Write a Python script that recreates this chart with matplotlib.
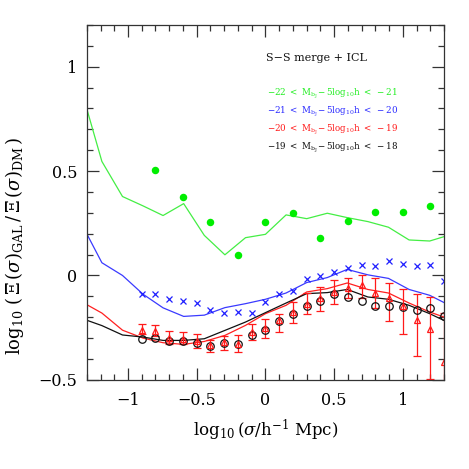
import matplotlib
matplotlib.use('Agg')
import matplotlib.pyplot as plt
from matplotlib.ticker import MultipleLocator
import numpy as np

plt.rcParams['font.family'] = ['DejaVu Serif']
plt.rcParams['mathtext.fontset'] = 'dejavuserif'

# ---- model curves (line grid) ----
x_line = [-1.34, -1.19, -1.04, -0.89, -0.745, -0.595, -0.445, -0.295, -0.145, 0.0,
          0.15, 0.30, 0.45, 0.595, 0.745, 0.895, 1.045, 1.195, 1.345]
green_line = [0.89, 0.546, 0.378, 0.333, 0.287, 0.344, 0.192, 0.099, 0.181, 0.197,
              0.29, 0.272, 0.298, 0.277, 0.258, 0.231, 0.17, 0.165, 0.195]
blue_line = [0.25, 0.061, 0.0, -0.09, -0.155, -0.196, -0.19, -0.154, -0.135, -0.114,
             -0.084, -0.034, -0.01, 0.029, 0.003, -0.014, -0.067, -0.095, -0.145]
red_line = [-0.125, -0.18, -0.262, -0.30, -0.322, -0.33, -0.316, -0.287, -0.239, -0.183,
            -0.143, -0.079, -0.063, -0.036, -0.067, -0.084, -0.132, -0.175, -0.21]
black_line = [-0.205, -0.24, -0.285, -0.295, -0.311, -0.311, -0.303, -0.263, -0.223, -0.178,
              -0.132, -0.087, -0.082, -0.067, -0.103, -0.114, -0.143, -0.183, -0.23]

# ---- measurements ----
x_green = [-0.8, -0.6, -0.4, -0.2, 0.0, 0.2, 0.4, 0.6, 0.8, 1.0, 1.2]
y_green = [0.503, 0.376, 0.256, 0.099, 0.255, 0.301, 0.178, 0.261, 0.306, 0.303, 0.332]

x_pts = [-0.9, -0.8, -0.7, -0.6, -0.5, -0.4, -0.3, -0.2, -0.1, 0.0, 0.1, 0.2,
         0.3, 0.4, 0.5, 0.6, 0.7, 0.8, 0.9, 1.0, 1.1, 1.2, 1.3]
y_blue = [-0.087, -0.087, -0.115, -0.122, -0.13, -0.163, -0.178, -0.175, -0.178, -0.127,
          -0.091, -0.072, -0.016, -0.003, 0.016, 0.034, 0.048, 0.045, 0.069, 0.056,
          0.045, 0.048, -0.027]
y_black = [-0.306, -0.301, -0.316, -0.316, -0.324, -0.34, -0.324, -0.33, -0.287, -0.26,
           -0.218, -0.183, -0.146, -0.124, -0.088, -0.103, -0.124, -0.144, -0.148, -0.151,
           -0.167, -0.156, -0.194]
y_red = [-0.263, -0.266, -0.30, -0.303, -0.314, -0.335, -0.319, -0.327, -0.271, -0.25,
         -0.215, -0.175, -0.135, -0.108, -0.079, -0.06, -0.047, -0.084, -0.108, -0.148,
         -0.215, -0.255, -0.415]
red_hi = [-0.234, -0.239, -0.266, -0.271, -0.282, -0.311, -0.292, -0.287, -0.231, -0.207,
          -0.183, -0.127, -0.084, -0.055, -0.023, -0.014, 0.001, -0.014, -0.036, -0.063,
          -0.091, -0.103, -0.18]
red_lo = [-0.282, -0.29, -0.33, -0.33, -0.346, -0.367, -0.359, -0.367, -0.311, -0.298,
          -0.271, -0.228, -0.186, -0.17, -0.135, -0.11, -0.11, -0.154, -0.218, -0.282,
          -0.388, -0.495, -0.65]

labels = [r'$-22\ <\ \mathrm{M_{b_J}\!-5log_{10}h}\ <\ -21$',
          r'$-21\ <\ \mathrm{M_{b_J}\!-5log_{10}h}\ <\ -20$',
          r'$-20\ <\ \mathrm{M_{b_J}\!-5log_{10}h}\ <\ -19$',
          r'$-19\ <\ \mathrm{M_{b_J}\!-5log_{10}h}\ <\ -18$']
colors = ['#22ee22', '#2a2aff', '#ff1a1a', '#111111']

fig = plt.figure(figsize=(4.69, 4.69), dpi=100)
ax = fig.add_axes([0.185, 0.19, 0.762, 0.757])

ax.plot(x_line, green_line, color='#44ee44', lw=0.9)
ax.plot(x_line, blue_line, color='#3a3aff', lw=0.9)
ax.plot(x_line, red_line, color='#ff2020', lw=0.9)
ax.plot(x_line, black_line, color='#111111', lw=0.9)

ax.plot(x_green, y_green, 'o', color='#00ee00', ms=5.4, mec='none')
ax.plot(x_pts, y_blue, 'x', color='#2020ff', ms=3.8, mew=0.9)

y_red_a = np.array(y_red)
yerr = [y_red_a - np.array(red_lo), np.array(red_hi) - y_red_a]
ax.errorbar(x_pts, y_red, yerr=yerr, fmt='^', color='#ff1a1a', mfc='none', ms=4.2,
            mew=0.9, elinewidth=0.9, capsize=2.6, capthick=0.9)
ax.plot(x_pts, y_black, 'o', mfc='none', mec='#111111', ms=5.4, mew=0.9)

ax.set_xlim(-1.3, 1.3)
ax.set_ylim(-0.5, 1.2)
ax.xaxis.set_major_locator(MultipleLocator(0.5))
ax.xaxis.set_minor_locator(MultipleLocator(0.1))
ax.yaxis.set_major_locator(MultipleLocator(0.5))
ax.yaxis.set_minor_locator(MultipleLocator(0.1))
ax.set_xticks([-1, -0.5, 0, 0.5, 1])
ax.set_xticklabels(['\u22121', '\u22120.5', '0', '0.5', '1'])
ax.set_yticks([-0.5, 0, 0.5, 1])
ax.set_yticklabels(['\u22120.5', '0', '0.5', '1'])
ax.tick_params(which='both', direction='in', top=True, right=True, width=0.9,
               labelsize=11.5, color='#333333')
ax.tick_params(which='major', length=8.5)
ax.tick_params(which='minor', length=4.3)
ax.tick_params(axis='x', pad=9)
ax.tick_params(axis='y', pad=7)
for s in ax.spines.values():
    s.set_linewidth(0.9)
    s.set_color('#333333')

ax.set_xlabel(r'$\log_{10}(\sigma/\mathrm{h^{-1}\ Mpc})$', fontsize=12, labelpad=6)
ax.set_ylabel(r'$\log_{10}\,(\,\Xi\,(\sigma)_{\rm GAL}\,/\,\Xi\,(\sigma)_{\rm DM}\,)$',
              fontsize=13)
ax.yaxis.set_label_coords(-0.17, 0.377)

ax.text(0.502, 0.908, 'S\u2212S merge + ICL', transform=ax.transAxes, fontsize=8,
        va='center', ha='left', color='#111111')
label_y = [0.807, 0.755, 0.706, 0.655]
for lab, c, yy in zip(labels, colors, label_y):
    ax.text(0.504, yy, lab, transform=ax.transAxes, fontsize=6.3, color=c,
            va='center', ha='left')

fig.savefig('out.png', dpi=100)
